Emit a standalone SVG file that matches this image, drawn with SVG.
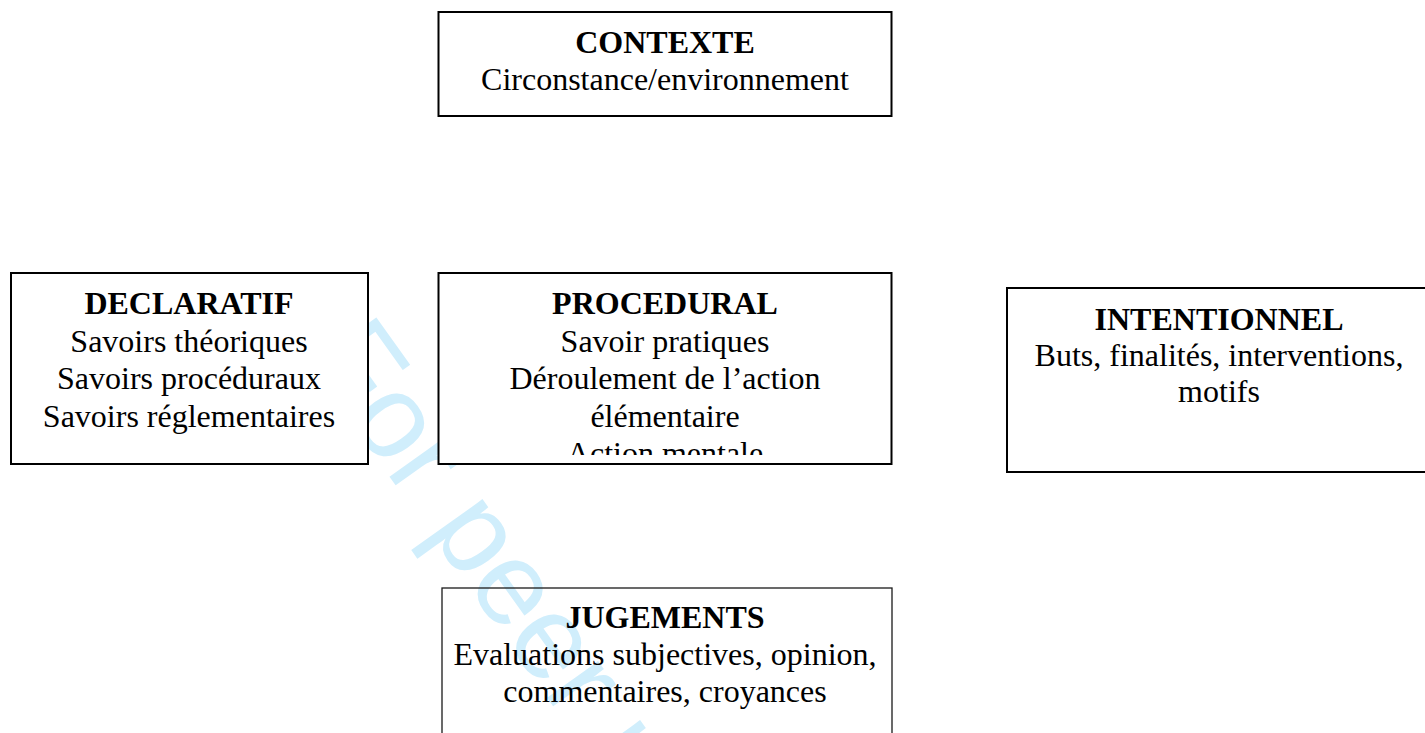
<svg xmlns="http://www.w3.org/2000/svg" width="1425" height="733" viewBox="0 0 1425 733">
  <style>
    .box { fill: #ffffff; stroke: #000000; stroke-width: 2; }
    .box-thin { fill: none; stroke: #1a1a1a; stroke-width: 1.3; }
    .title { font-family: "Liberation Serif", "Times New Roman", serif; font-size: 32px; font-weight: bold; fill: #000000; text-anchor: middle; }
    .body { font-family: "Liberation Serif", "Times New Roman", serif; font-size: 32px; fill: #000000; text-anchor: middle; }
    .watermark { font-family: "Liberation Sans", Arial, sans-serif; font-size: 119px; fill: #d0eefc; }
  </style>
  <defs>
    <clipPath id="clip-procedural">
      <rect x="440" y="275" width="450" height="180"/>
    </clipPath>
  </defs>
  <rect x="0" y="0" width="1425" height="733" fill="#ffffff"/>

  <g id="watermark">
    <text class="watermark" transform="translate(304,357) rotate(54.5)">For peer review</text>
  </g>

  <g id="connectors"></g>

  <g id="node-contexte">
    <rect class="box" x="438.5" y="12" width="453" height="104"/>
    <text class="title" x="665" y="53">CONTEXTE</text>
    <text class="body" x="665" y="90">Circonstance/environnement</text>
  </g>

  <g id="node-declaratif">
    <rect class="box" x="11" y="273" width="357" height="191"/>
    <text class="title" x="189" y="314">DECLARATIF</text>
    <text class="body" x="189" y="351.5">Savoirs théoriques</text>
    <text class="body" x="189" y="389">Savoirs procéduraux</text>
    <text class="body" x="189" y="426.5">Savoirs réglementaires</text>
  </g>

  <g id="node-procedural">
    <rect class="box" x="438.5" y="273" width="453" height="191"/>
    <g clip-path="url(#clip-procedural)">
      <text class="title" x="665" y="314">PROCEDURAL</text>
      <text class="body" x="665" y="351.5">Savoir pratiques</text>
      <text class="body" x="665" y="389">Déroulement de l’action</text>
      <text class="body" x="665" y="426.5">élémentaire</text>
      <text class="body" x="665" y="464">Action mentale</text>
    </g>
  </g>

  <g id="node-intentionnel">
    <rect class="box" x="1007" y="288" width="430" height="184"/>
    <text class="title" x="1219" y="330">INTENTIONNEL</text>
    <text class="body" x="1219" y="366">Buts, finalités, interventions,</text>
    <text class="body" x="1219" y="402">motifs</text>
  </g>

  <g id="node-jugements">
    <rect class="box-thin" x="442" y="588" width="450" height="160"/>
    <text class="title" x="665" y="628">JUGEMENTS</text>
    <text class="body" x="665" y="665">Evaluations subjectives, opinion,</text>
    <text class="body" x="665" y="702">commentaires, croyances</text>
  </g>
</svg>
